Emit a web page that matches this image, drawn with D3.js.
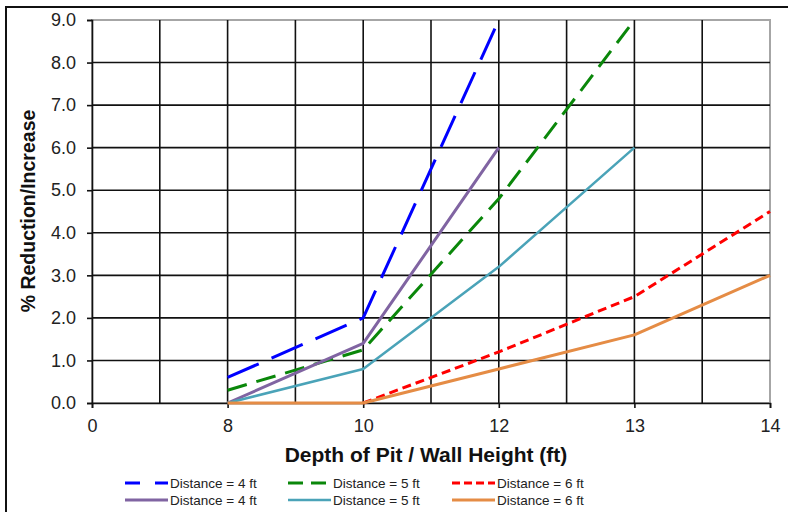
<!DOCTYPE html>
<html>
<head>
<meta charset="utf-8">
<script src="https://cdn.jsdelivr.net/npm/d3@7"></script>
<style>
  html, body { margin: 0; padding: 0; background: #fff; }
  svg { display: block; font-family: "Liberation Sans", Arial, sans-serif; }
</style>
</head>
<body>
<svg id="chart" width="788" height="512"></svg>
<script>
// ---- data ----
const categories = ["0", "8", "10", "12", "13", "14"];
const yTicks = [0, 1, 2, 3, 4, 5, 6, 7, 8, 9];
const seriesNames = ["Distance = 4 ft", "Distance = 5 ft", "Distance = 6 ft",
                     "Distance = 4 ft", "Distance = 5 ft", "Distance = 6 ft"];
const d4Dashed = [null, 0.6, 2.0, 9.0, null, null];
const d5Dashed = [null, 0.3, 1.25, 4.8, 9.0, null];
const d6Dashed = [null, null, 0.0, 1.2, 2.5, 4.5];
const d4Solid  = [null, 0.0, 1.4, 6.0, null, null];
const d5Solid  = [null, 0.0, 0.8, 3.2, 6.0, null];
const d6Solid  = [null, 0.0, 0.0, 0.8, 1.6, 3.0];

const seriesValues = [d4Dashed, d5Dashed, d6Dashed, d4Solid, d5Solid, d6Solid];
const styles = [
  { color: "#0000ff", width: 3,   dash: "34,14", legendDash: "15,15" },
  { color: "#0a870a", width: 3,   dash: "20,10", legendDash: "15,8" },
  { color: "#ff0000", width: 3,   dash: "9,5",   legendDash: "8,4" },
  { color: "#8064a2", width: 3,   dash: null,    legendDash: null },
  { color: "#4aa3b8", width: 2.5, dash: null,    legendDash: null },
  { color: "#e58c45", width: 3,   dash: null,    legendDash: null }
];

const svg = d3.select("#chart");
const L = 92, R = 770, T = 20, B = 403;

const x = d3.scalePoint().domain(categories).range([L, R]);
const y = d3.scaleLinear().domain([0, 9]).range([B, T]);

// outer frame
svg.append("path").attr("d", `M6,512 L6,7 L788,7`).attr("fill", "none")
  .attr("stroke", "#111").attr("stroke-width", 2);

// plot border (gray)
svg.append("rect").attr("x", L).attr("y", T).attr("width", R - L).attr("height", B - T)
  .attr("fill", "none").attr("stroke", "#a6a6a6").attr("stroke-width", 2);

// vertical gridlines: at categories and halfway between
const step = x.step();
const vLines = d3.range(0, (categories.length - 1) * 2 + 1).map(i => L + i * step / 2);
svg.append("g").selectAll("line").data(vLines.slice(1, -1)).join("line")
  .attr("x1", d => d).attr("x2", d => d).attr("y1", T).attr("y2", B)
  .attr("stroke", "#111").attr("stroke-width", 1.6);

// horizontal gridlines
svg.append("g").selectAll("line").data(yTicks.slice(1, -1)).join("line")
  .attr("x1", L).attr("x2", R).attr("y1", d => y(d)).attr("y2", d => y(d))
  .attr("stroke", "#111").attr("stroke-width", 1.6);

// y axis
const yAxis = svg.append("g").attr("transform", `translate(${L},0)`)
  .call(d3.axisLeft(y).tickValues(yTicks).tickFormat(d3.format(".1f")).tickSize(5).tickPadding(11));
yAxis.select(".domain").attr("stroke", "#111").attr("stroke-width", 1.6);
yAxis.selectAll(".tick line").attr("stroke", "#111").attr("stroke-width", 1.6);
yAxis.selectAll("text").attr("font-size", 18).attr("fill", "#222")
  .attr("font-family", "'Liberation Sans', Arial, sans-serif");

// x axis
const xAxis = svg.append("g").attr("transform", `translate(0,${B})`)
  .call(d3.axisBottom(x).tickSize(5).tickPadding(11));
xAxis.select(".domain").attr("stroke", "#111").attr("stroke-width", 1.6);
xAxis.selectAll(".tick line").attr("stroke", "#111").attr("stroke-width", 1.6);
xAxis.selectAll("text").attr("font-size", 18).attr("fill", "#222")
  .attr("font-family", "'Liberation Sans', Arial, sans-serif");

// axis titles
svg.append("text").attr("x", 426).attr("y", 462).attr("text-anchor", "middle")
  .attr("font-size", 21).attr("font-weight", "bold").attr("fill", "#111")
  .text("Depth of Pit / Wall Height (ft)");
svg.append("text").attr("transform", "translate(35,211) rotate(-90)")
  .attr("text-anchor", "middle").attr("font-size", 19.5).attr("font-weight", "bold")
  .attr("fill", "#111").text("% Reduction/Increase");

// lines
const line = d3.line()
  .defined(d => d.v !== null)
  .x(d => x(d.c)).y(d => y(d.v));

seriesValues.forEach((vals, i) => {
  const pts = vals.map((v, j) => ({ c: categories[j], v }));
  const s = styles[i];
  svg.append("path").datum(pts)
    .attr("d", line).attr("fill", "none")
    .attr("stroke", s.color).attr("stroke-width", s.width)
    .attr("stroke-linejoin", "round")
    .attr("stroke-dasharray", s.dash);
});

// legend
const legX = [125, 288, 452];
const legY = [483, 500];
seriesNames.forEach((name, i) => {
  const col = i % 3, row = Math.floor(i / 3);
  const s = styles[i];
  const g = svg.append("g");
  g.append("line").attr("x1", legX[col]).attr("x2", legX[col] + 43)
    .attr("y1", legY[row]).attr("y2", legY[row])
    .attr("stroke", s.color).attr("stroke-width", s.width)
    .attr("stroke-dasharray", s.legendDash);
  g.append("text").attr("x", legX[col] + 45).attr("y", legY[row] + 5)
    .attr("font-size", 13.5).attr("fill", "#222").text(name);
});
</script>
</body>
</html>
